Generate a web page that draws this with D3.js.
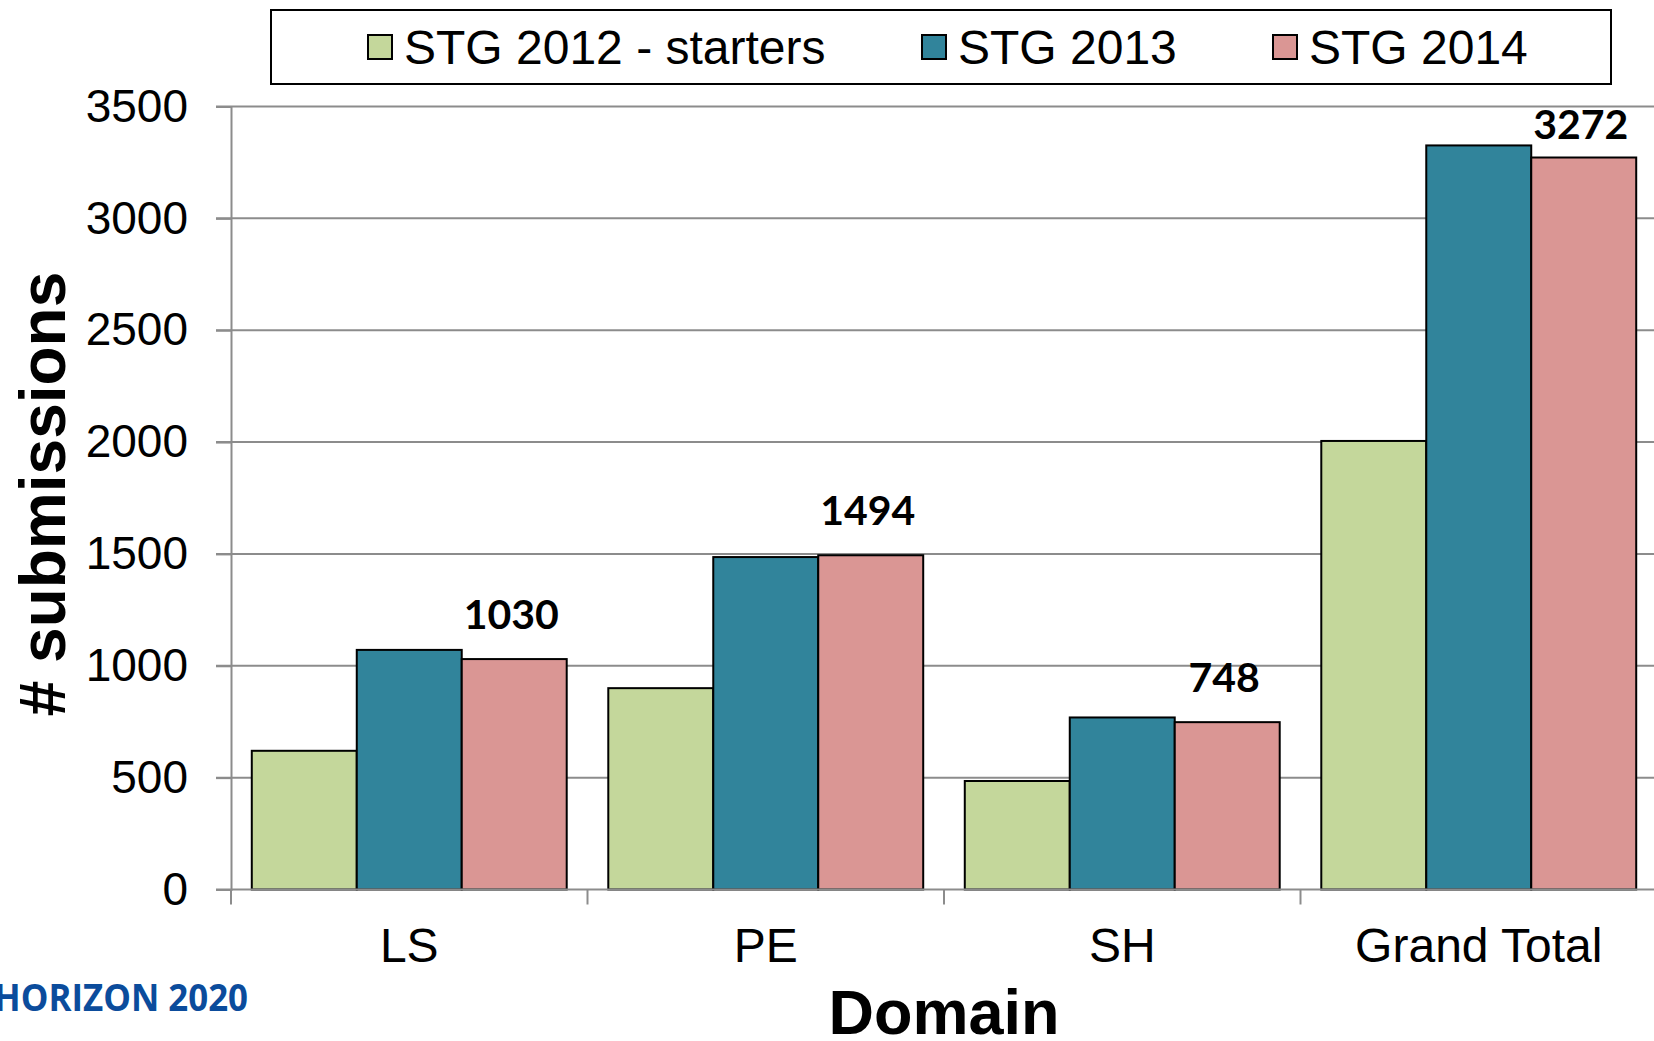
<!DOCTYPE html>
<html>
<head>
<meta charset="utf-8">
<script src="https://cdn.jsdelivr.net/npm/d3@7"></script>
<style>
  html, body { margin: 0; padding: 0; background: #fff; }
  svg { display: block; }
</style>
</head>
<body>
<svg></svg>
<script>
var domains = ["LS", "PE", "SH", "Grand Total"];
var seriesNames = ["STG 2012 - starters", "STG 2013", "STG 2014"];
var stg2012 = [620, 900, 485, 2005];
var stg2013 = [1071, 1486, 769, 3326];
var stg2014 = [1030, 1494, 748, 3272];
var yTicks = [0, 500, 1000, 1500, 2000, 2500, 3000, 3500];
var colors = ["#c4d79b", "#31849b", "#da9694"];

var svgWidth = 1654, svgHeight = 1041;
var margin = { top: 106.5, right: -3, bottom: 151.5, left: 231 };
var width = svgWidth - margin.left - margin.right;
var height = svgHeight - margin.top - margin.bottom;

var svg = d3.select("svg")
  .attr("width", svgWidth)
  .attr("height", svgHeight);

var g = svg.append("g")
  .attr("transform", "translate(" + margin.left + "," + margin.top + ")");

var x0 = d3.scaleBand().domain(domains).range([0, width]).padding(0);
var x1 = d3.scaleBand().domain(d3.range(3)).range([0, x0.bandwidth()])
  .paddingInner(0).paddingOuter(0.198);
var y = d3.scaleLinear().domain([0, 3500]).range([height, 0]);

// gridlines
g.selectAll(".grid")
  .data(yTicks.filter(function(d) { return d > 0; }))
  .enter().append("line")
  .attr("x1", -15).attr("x2", svgWidth)
  .attr("y1", function(d) { return y(d); })
  .attr("y2", function(d) { return y(d); })
  .attr("stroke", "#8c8c8c")
  .attr("stroke-width", 2);

// y axis
var yAxis = g.append("g")
  .call(d3.axisLeft(y).tickValues(yTicks).tickFormat(d3.format("d")).tickSize(15).tickPadding(28));
yAxis.select(".domain").attr("stroke", "#8c8c8c").attr("stroke-width", 2);
yAxis.selectAll(".tick line").attr("stroke", "#8c8c8c").attr("stroke-width", 2);
yAxis.selectAll("text")
  .attr("font-family", "Liberation Sans, Arial, sans-serif")
  .attr("font-size", 46)
  .attr("fill", "#000");

var series = [stg2012, stg2013, stg2014];

var groups = g.selectAll(".grp")
  .data(domains)
  .enter().append("g")
  .attr("transform", function(d) { return "translate(" + x0(d) + ",0)"; });

groups.selectAll("rect")
  .data(function(d, i) { return series.map(function(s, k) { return { k: k, v: s[i] }; }); })
  .enter().append("rect")
  .attr("x", function(d) { return x1(d.k); })
  .attr("y", function(d) { return y(d.v); })
  .attr("width", x1.bandwidth())
  .attr("height", function(d) { return height - y(d.v); })
  .attr("fill", function(d) { return colors[d.k]; })
  .attr("stroke", "#000")
  .attr("stroke-width", 2);

// value labels on STG 2014 (kept inside the top of the plot)
groups.append("text")
  .attr("x", function(d) { return x1(2) + x1.bandwidth() / 2 - 3; })
  .attr("y", function(d, i) { return Math.max(y(stg2014[i]) - 30, 32); })
  .attr("text-anchor", "middle")
  .attr("font-family", "Lato, sans-serif")
  .attr("font-weight", "bold")
  .attr("font-size", 41)
  .text(function(d, i) { return stg2014[i]; });

// x axis
var xAxis = g.append("g")
  .attr("transform", "translate(0," + height + ")");
xAxis.append("line")
  .attr("x1", -15).attr("x2", svgWidth)
  .attr("stroke", "#8c8c8c").attr("stroke-width", 2);
xAxis.selectAll(".xt")
  .data(domains.concat(["end"]))
  .enter().append("line")
  .attr("x1", function(d, i) { return i * x0.step(); })
  .attr("x2", function(d, i) { return i * x0.step(); })
  .attr("y1", 0).attr("y2", 15)
  .attr("stroke", "#8c8c8c").attr("stroke-width", 2);
xAxis.selectAll(".xl")
  .data(domains)
  .enter().append("text")
  .attr("x", function(d) { return x0(d) + x0.bandwidth() / 2; })
  .attr("y", 72)
  .attr("text-anchor", "middle")
  .attr("font-family", "Liberation Sans, Arial, sans-serif")
  .attr("font-size", 48)
  .text(function(d) { return d; });

// axis titles
svg.append("text")
  .attr("x", margin.left + width / 2)
  .attr("y", 1034)
  .attr("text-anchor", "middle")
  .attr("font-family", "Liberation Sans, Arial, sans-serif")
  .attr("font-weight", "bold")
  .attr("font-size", 63)
  .text("Domain");

svg.append("text")
  .attr("transform", "translate(65," + (margin.top + height / 2 - 4) + ") rotate(-90)")
  .attr("text-anchor", "middle")
  .attr("font-family", "Liberation Sans, Arial, sans-serif")
  .attr("font-weight", "bold")
  .attr("font-size", 64)
  .text("# submissions");

// legend
var legend = svg.append("g");
legend.append("rect")
  .attr("x", 271).attr("y", 10)
  .attr("width", 1340).attr("height", 74)
  .attr("fill", "#fff").attr("stroke", "#000").attr("stroke-width", 2);
var legX = [368, 922, 1273];
var item = legend.selectAll(".li")
  .data(seriesNames)
  .enter().append("g")
  .attr("transform", function(d, i) { return "translate(" + legX[i] + ",0)"; });
item.append("rect")
  .attr("x", 0).attr("y", 35)
  .attr("width", 24).attr("height", 24)
  .attr("fill", function(d, i) { return colors[i]; })
  .attr("stroke", "#000").attr("stroke-width", 2);
item.append("text")
  .attr("x", 36).attr("y", 64)
  .attr("font-family", "Liberation Sans, Arial, sans-serif")
  .attr("font-size", 48)
  .text(function(d) { return d; });

// logo text
svg.append("text")
  .attr("x", 248).attr("y", 1011)
  .attr("text-anchor", "end")
  .attr("font-family", "Open Sans, sans-serif")
  .attr("font-weight", "bold")
  .attr("font-size", 38)
  .attr("textLength", 254)
  .attr("lengthAdjust", "spacingAndGlyphs")
  .attr("fill", "#0b4c9c")
  .text("HORIZON 2020");
</script>
</body>
</html>
